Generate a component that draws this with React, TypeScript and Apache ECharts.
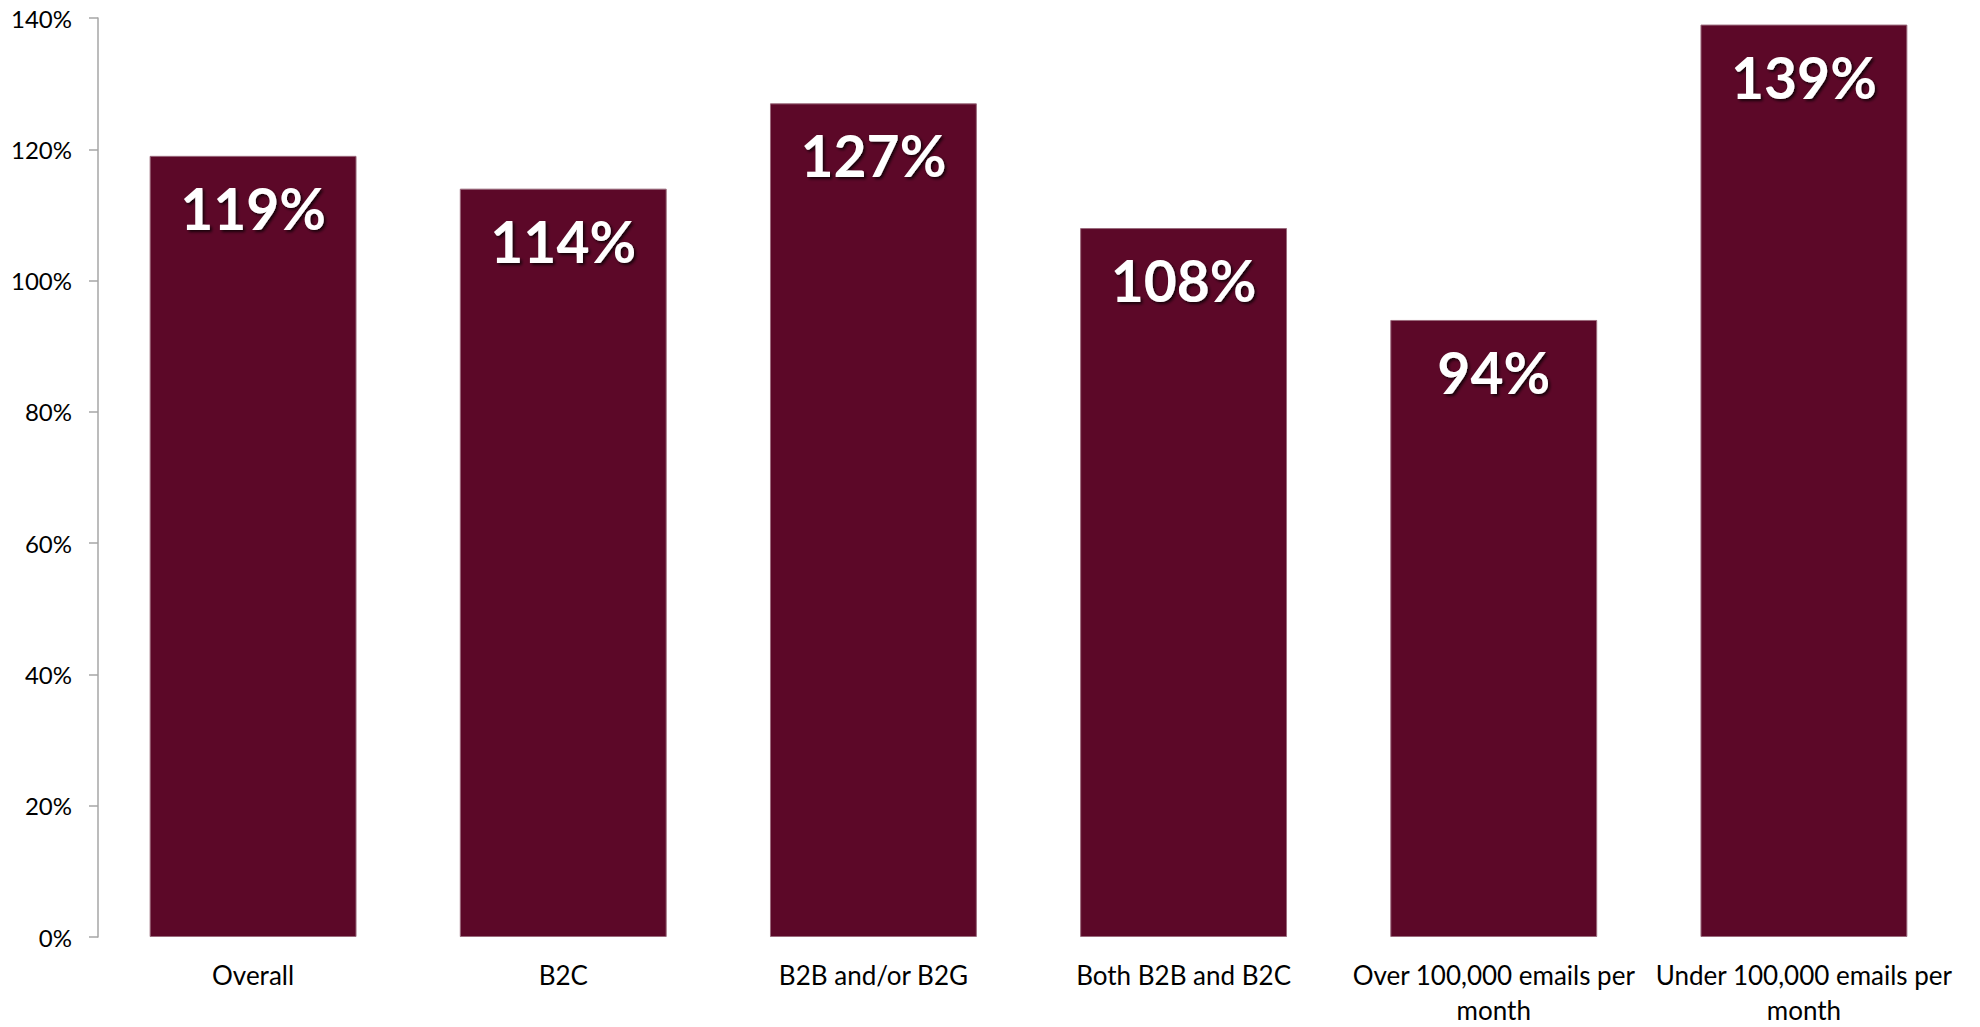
import React, { useEffect, useRef } from "react";
import * as echarts from "echarts";

const categories = [
  "Overall",
  "B2C",
  "B2B and/or B2G",
  "Both B2B and B2C",
  "Over 100,000 emails per\nmonth",
  "Under 100,000 emails per\nmonth",
];
const values = [119, 114, 127, 108, 94, 139];
const yMin = 0;
const yMax = 140;
const yInterval = 20;

export default function App() {
  const ref = useRef<HTMLDivElement>(null);
  useEffect(() => {
    if (!ref.current) return;
    document.body.style.margin = "0";
    const chart = echarts.init(ref.current, undefined, { renderer: "svg" });
    chart.setOption({
      animation: false,
      backgroundColor: "#ffffff",
      grid: { left: 98, right: 21, top: 18, bottom: 86, containLabel: false },
      xAxis: {
        type: "category",
        data: categories,
        axisLine: { show: false },
        axisTick: { show: false },
        axisLabel: {
          color: "#000000",
          fontFamily: "Lato",
          fontSize: 26,
          lineHeight: 35,
          margin: 20,
          interval: 0,
        },
      },
      yAxis: {
        type: "value",
        min: yMin,
        max: yMax,
        interval: yInterval,
        splitLine: { show: false },
        axisLine: { show: true, lineStyle: { color: "#a6a6a6", width: 1.5 } },
        axisTick: { show: true, length: 9, lineStyle: { color: "#a6a6a6", width: 1.5 } },
        axisLabel: {
          color: "#000000",
          fontFamily: "Lato",
          fontSize: 24,
          margin: 26,
          formatter: (v: number) => v + "%",
        },
      },
      series: [
        {
          type: "bar",
          data: values,
          barCategoryGap: "33.3%",
          itemStyle: {
            color: "#5c0828",
            borderColor: "#9a6a7c",
            borderWidth: 1,
          },
          label: {
            show: true,
            position: "insideTop",
            distance: 21,
            formatter: (p: any) => p.value + "%",
            color: "#ffffff",
            fontFamily: "Lato",
            fontWeight: "bold",
            fontSize: 57,
            lineHeight: 62,
            textShadowColor: "rgba(0,0,0,0.75)",
            textShadowBlur: 3,
            textShadowOffsetX: 2,
            textShadowOffsetY: 2,
          },
        },
      ],
    });
    return () => chart.dispose();
  }, []);
  return (
    <div
      ref={ref}
      style={{ position: "fixed", left: 0, top: 0, width: 1980, height: 1027 }}
    />
  );
}
